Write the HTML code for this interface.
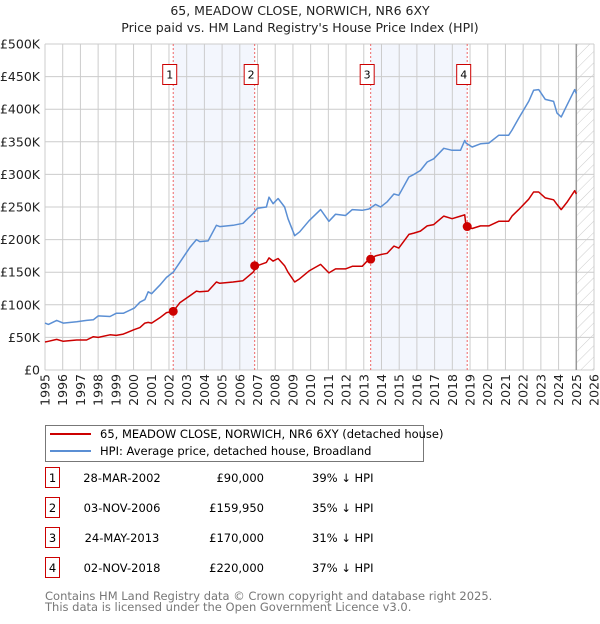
<!DOCTYPE html>
<html><head><meta charset="utf-8"><style>
body{margin:0;background:#fff;font-family:"DejaVu Sans","Liberation Sans",sans-serif;}
svg text{font-family:"DejaVu Sans","Liberation Sans",sans-serif;}
</style></head><body>
<svg id="chart" width="600" height="620" viewBox="0 0 600 620" xmlns="http://www.w3.org/2000/svg">
<defs><pattern id="hatch" width="8" height="8" patternUnits="userSpaceOnUse" patternTransform="rotate(45)"><line x1="0" y1="0" x2="0" y2="8" stroke="#ccc" stroke-width="1"/></pattern></defs>
<text x="300" y="15" text-anchor="middle" font-size="12.5" fill="#222">65, MEADOW CLOSE, NORWICH, NR6 6XY</text>
<text x="300" y="32" text-anchor="middle" font-size="12.5" fill="#222">Price paid vs. HM Land Registry's House Price Index (HPI)</text>
<g id="plot"></g>
<g>
<rect x="45.5" y="425.5" width="378" height="36" fill="#fff" stroke="#777"/>
<line x1="50" y1="434" x2="91" y2="434" stroke="#cc0000" stroke-width="2"/>
<text x="100" y="438" font-size="11.5" fill="#000">65, MEADOW CLOSE, NORWICH, NR6 6XY (detached house)</text>
<line x1="50" y1="451" x2="91" y2="451" stroke="#5b8fd4" stroke-width="2"/>
<text x="100" y="455" font-size="11.5" fill="#000">HPI: Average price, detached house, Broadland</text>
</g>
<g id="table" font-size="11.5" fill="#000"></g>
<text x="45" y="600" font-size="11.5" fill="#777">Contains HM Land Registry data © Crown copyright and database right 2025.</text>
<text x="45" y="611" font-size="11.5" fill="#777">This data is licensed under the Open Government Licence v3.0.</text>
</svg>
<script>
const years=[1995.0,1995.19,1995.66,1996.03,1996.79,1997.35,1997.73,1998.01,1998.67,1999.02,1999.42,2000.04,2000.36,2000.64,2000.83,2001.02,2001.48,2001.86,2002.24,2002.61,2003.18,2003.55,2003.74,2004.21,2004.68,2004.87,2005.62,2006.18,2006.75,2006.99,2007.5,2007.65,2007.88,2008.16,2008.53,2008.72,2009.1,2009.38,2009.91,2010.56,2011.03,2011.41,2011.97,2012.35,2012.91,2013.29,2013.67,2013.95,2014.32,2014.7,2014.98,2015.55,2015.83,2016.2,2016.58,2016.95,2017.52,2017.99,2018.46,2018.7,2018.78,2019.12,2019.59,2020.06,2020.62,2021.18,2021.37,2021.75,2022.31,2022.59,2022.88,2023.25,2023.72,2023.91,2024.15,2024.47,2024.91,2025.0];
const hpiValues=[72,70,76,72,74,76,77,83,82,87,87,95,104,108,120,117,130,142,150,165,188,200,197,198,222,220,222,225,240,248,250,265,255,263,250,232,206,212,229,246,228,239,237,246,245,247,254,250,258,270,268,296,300,306,319,324,340,337,337,352,348,342,347,348,360,360,368,386,412,429,430,415,412,394,388,406,430,424];
const priceValues=[43,44,47,44,46,46,51,50,54,53,55,62,65,72,73,72,80,88,90,103,114,121,120,121,135,133,135,137,150,160,165,172,167,171,160,150,135,140,152,162,149,155,155,159,159,170,175,177,179,190,187,208,210,213,221,223,236,232,236,238,220,217,221,221,228,228,236,246,262,273,273,264,261,254,246,257,275,270];
const saleYears=[2002.24,2006.84,2013.39,2018.84];
const salePrices=[90,159.95,170,220];
const saleDates=["28-MAR-2002","03-NOV-2006","24-MAY-2013","02-NOV-2018"];
const salePriceLabels=["£90,000","£159,950","£170,000","£220,000"];
const saleDiffs=["39% ↓ HPI","35% ↓ HPI","31% ↓ HPI","37% ↓ HPI"];
const yTicks=[0,50,100,150,200,250,300,350,400,450,500];
const yTickLabels=["£0","£50K","£100K","£150K","£200K","£250K","£300K","£350K","£400K","£450K","£500K"];
const xTicks=[1995,1996,1997,1998,1999,2000,2001,2002,2003,2004,2005,2006,2007,2008,2009,2010,2011,2012,2013,2014,2015,2016,2017,2018,2019,2020,2021,2022,2023,2024,2025,2026];

const L=45,R=594,T=44,B=370,X0=1995,X1=2026,YMAX=500;
const xs=y=>L+(y-X0)/(X1-X0)*(R-L);
const ys=v=>B-v/YMAX*(B-T);
const NS="http://www.w3.org/2000/svg";
const plot=document.getElementById('plot');
function mk(tag,attrs,parent){const e=document.createElementNS(NS,tag);for(const k in attrs)e.setAttribute(k,attrs[k]);(parent||plot).appendChild(e);return e;}

for(let i=0;i<saleYears.length;i+=2){
  const r=mk('rect',{x:xs(saleYears[i]),y:T,width:xs(saleYears[i+1])-xs(saleYears[i]),height:B-T,fill:'#f3f6fd'});
  
  
}
const h=mk('rect',{x:xs(2025),y:T,width:R-xs(2025),height:B-T,fill:'url(#hatch)'});


yTicks.forEach((v,i)=>{
  const g=mk('line',{x1:L,x2:R,y1:ys(v),y2:ys(v),stroke:'#ccc','stroke-width':1});
  
  
  const t=mk('text',{x:L-5,y:ys(v)+4.5,'text-anchor':'end','font-size':12.5,fill:'#222'});
  t.textContent=yTickLabels[i];
  
  
});
xTicks.forEach(y=>{
  const g=mk('line',{x1:xs(y),x2:xs(y),y1:T,y2:B,stroke:'#ccc','stroke-width':1});
  
  
  const t=mk('text',{x:0,y:0,'text-anchor':'end','font-size':12.5,fill:'#222',transform:`translate(${xs(y)+4.5},${B+4}) rotate(-90)`});
  t.textContent=y;
  
  
});
const nl=mk('line',{x1:xs(2025),x2:xs(2025),y1:T,y2:B,stroke:'#999','stroke-width':1.5});


saleYears.forEach((y,i)=>{
  const l=mk('line',{x1:xs(y),x2:xs(y),y1:T,y2:B,stroke:'#ee6666','stroke-width':1,'stroke-dasharray':'2,2'});
  
  
  const b=mk('rect',{x:xs(y)-10.5,y:64.5,width:14,height:20,fill:'#fff',stroke:'#cc0000'});
  
  
  const t=mk('text',{x:xs(y)-3.5,y:78.5,'text-anchor':'middle','font-size':11,fill:'#000'});
  t.textContent=String(i+1);
  
  
});
function line(vals,color,name){
  const d=years.map((y,i)=>(i?'L':'M')+xs(y).toFixed(1)+','+ys(vals[i]).toFixed(1)).join('');
  const p=mk('path',{d:d,fill:'none',stroke:color,'stroke-width':1.5,'stroke-linejoin':'round'});
  
  
}
line(hpiValues,'#5b8fd4','hpi-line');
line(priceValues,'#cc0000','price-line');
saleYears.forEach((y,i)=>{
  const c=mk('circle',{cx:xs(y),cy:ys(salePrices[i]),r:4.5,fill:'#cc0000'});
  
  
});
const tb=document.getElementById('table');
saleDates.forEach((d,i)=>{
  const yy=483+i*30;
  const r=mk('rect',{x:45.5,y:yy-15.5,width:14,height:20,fill:'#fff',stroke:'#cc0000'},tb);
  
  
  const n=mk('text',{x:52.5,y:yy-1,'text-anchor':'middle'},tb);n.textContent=String(i+1);
  
  
  const a=mk('text',{x:122,y:yy-1,'text-anchor':'middle'},tb);a.textContent=d;
  
  
  const p=mk('text',{x:264,y:yy-1,'text-anchor':'end'},tb);p.textContent=salePriceLabels[i];
  
  
  const q=mk('text',{x:312,y:yy-1},tb);q.textContent=saleDiffs[i];
  
  
});
</script>
</body></html>
